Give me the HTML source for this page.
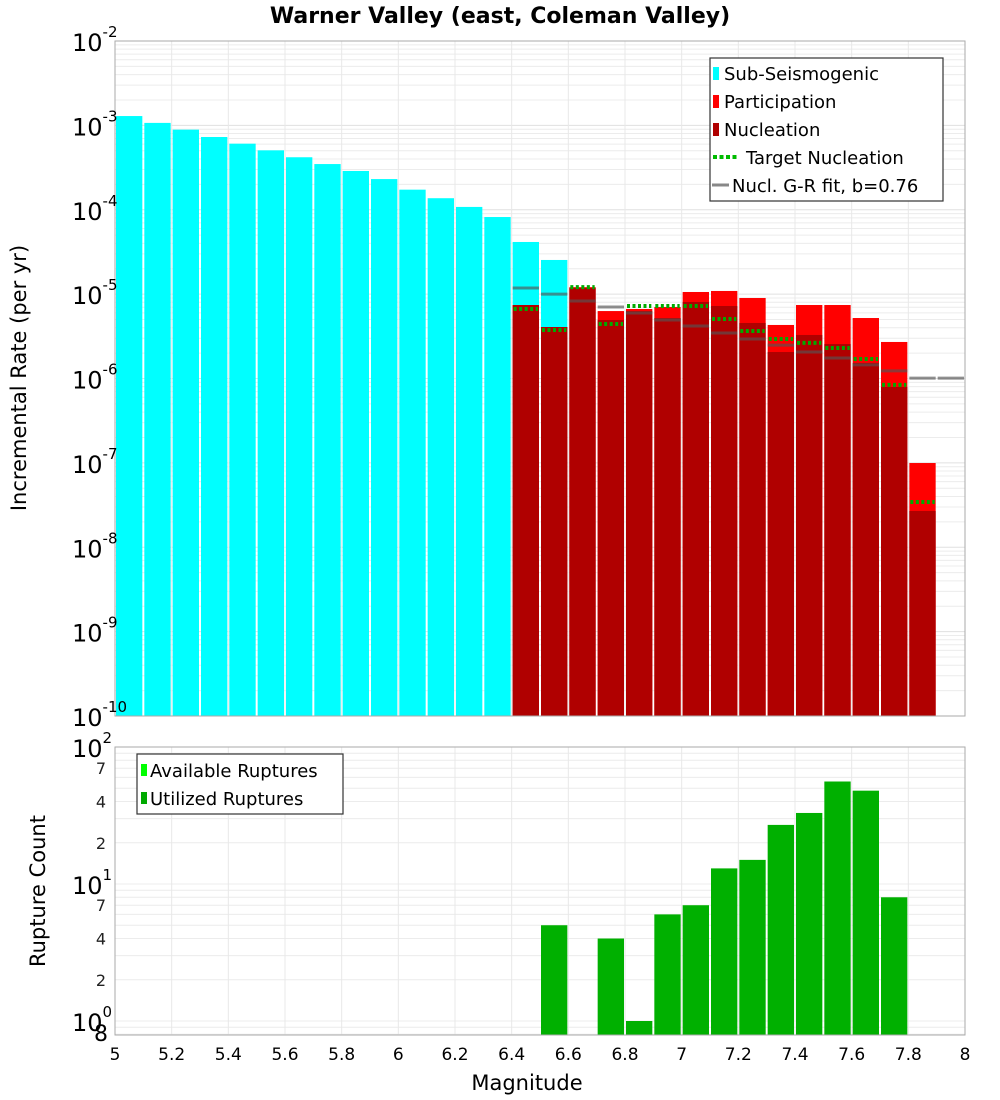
<!DOCTYPE html>
<html><head><meta charset="utf-8"><style>
body{margin:0;background:#fff;}
svg{display:block;font-family:"DejaVu Sans","Liberation Sans",sans-serif;}
</style></head><body>
<svg id="chart" width="1000" height="1100" xmlns="http://www.w3.org/2000/svg">
<rect width="1000" height="1100" fill="#fff"/>
<text x="500" y="23" text-anchor="middle" font-size="22" font-weight="bold">Warner Valley (east, Coleman Valley)</text>
<g id="grid"></g>
<g id="bars"></g>
<g id="axes"></g>
<g>
<rect x="710" y="58" width="233" height="143" fill="#fff" stroke="#333" stroke-width="1.2"/>
<rect x="713" y="67" width="6" height="13" fill="#00ffff"/><text x="724" y="80" font-size="18">Sub-Seismogenic</text>
<rect x="713" y="95" width="6" height="13" fill="#ff0000"/><text x="724" y="108" font-size="18">Participation</text>
<rect x="713" y="123" width="6" height="13" fill="#b00000"/><text x="724" y="136" font-size="18">Nucleation</text>
<line x1="713" y1="157" x2="739" y2="157" stroke="#00bb00" stroke-width="4" stroke-dasharray="4,2.5"/><text x="746" y="164" font-size="18">Target Nucleation</text>
<line x1="712" y1="185" x2="729" y2="185" stroke="#888" stroke-width="3"/><text x="732" y="192" font-size="18">Nucl. G-R fit, b=0.76</text>
</g>
<g>
<rect x="137" y="754" width="206" height="60" fill="#fff" stroke="#333" stroke-width="1.2"/>
<rect x="141" y="764" width="6" height="12" fill="#00ff00"/><text x="150" y="777" font-size="18">Available Ruptures</text>
<rect x="141" y="792" width="6" height="12" fill="#00aa00"/><text x="150" y="805" font-size="18">Utilized Ruptures</text>
</g>
<text x="527" y="1090" text-anchor="middle" font-size="21">Magnitude</text>
<text transform="translate(26,378) rotate(-90)" text-anchor="middle" font-size="21">Incremental Rate (per yr)</text>
<text transform="translate(45,891) rotate(-90)" text-anchor="middle" font-size="21">Rupture Count</text>
</svg>
<script>
// Data
const subMags = [5.0,5.1,5.2,5.3,5.4,5.5,5.6,5.7,5.8,5.9,6.0,6.1,6.2,6.3,6.4,6.5];
const subRates = [1.29e-3,1.07e-3,8.9e-4,7.28e-4,6.07e-4,5.06e-4,4.19e-4,3.48e-4,2.88e-4,2.31e-4,1.73e-4,1.37e-4,1.08e-4,8.2e-5,4.15e-5,2.54e-5];
const faultMags = [6.4,6.5,6.6,6.7,6.8,6.9,7.0,7.1,7.2,7.3,7.4,7.5,7.6,7.7,7.8];
const partRates = [7.43e-6,4.07e-6,1.21e-5,6.3e-6,6.67e-6,7.04e-6,1.06e-5,1.09e-5,9.0e-6,4.31e-6,7.43e-6,7.43e-6,5.21e-6,2.71e-6,9.96e-8];
const nuclRates = [7.43e-6,4.07e-6,1.18e-5,4.93e-6,6.3e-6,5.21e-6,8.07e-6,7.23e-6,4.55e-6,2.06e-6,3.28e-6,2.56e-6,1.53e-6,7.93e-7,2.69e-8];
const targetRates = [6.67e-6,3.76e-6,1.21e-5,4.43e-6,7.23e-6,7.23e-6,7.23e-6,5.07e-6,3.66e-6,2.94e-6,2.64e-6,2.3e-6,1.70e-6,8.4e-7,3.44e-8];
const grMags = [6.4,6.5,6.6,6.7,6.8,6.9,7.0,7.1,7.2,7.3,7.4,7.5,7.6,7.7,7.8,7.9];
const grRates = [1.18e-5,1.0e-5,8.3e-6,7.04e-6,5.97e-6,4.93e-6,4.19e-6,3.46e-6,2.94e-6,2.49e-6,2.06e-6,1.75e-6,1.45e-6,1.23e-6,1.01e-6,1.01e-6];
const countMags = [6.5,6.7,6.8,6.9,7.0,7.1,7.2,7.3,7.4,7.5,7.6,7.7];
const countValues = [5,4,1,6,7,13,15,27,33,56,48,8];
const xTicks = [5,5.2,5.4,5.6,5.8,6,6.2,6.4,6.6,6.8,7,7.2,7.4,7.6,7.8,8];

const NS="http://www.w3.org/2000/svg";
const L=115,R=965,T1=41,B1=716,T2=747,B2=1035;
const x=m=>L+(m-5)/3*(R-L);
const y1=v=>T1+(-2-Math.log10(v))*(B1-T1)/8;
const y2=v=>T2+(2-Math.log10(v))*137;
function el(tag,attrs,parent,txt){const e=document.createElementNS(NS,tag);for(const k in attrs)e.setAttribute(k,attrs[k]);if(txt!==undefined)e.textContent=txt;parent.appendChild(e);return e;}
const grid=document.getElementById('grid'),bars=document.getElementById('bars'),axes=document.getElementById('axes');
// plot backgrounds & grid
for(let d=-10;d<-2;d++){for(let k=1;k<10;k++){const yy=y1(k*Math.pow(10,d));el('line',{x1:L,x2:R,y1:yy,y2:yy,stroke:k==1?'#e0e0e0':'#ececec','stroke-width':1},grid);}}
for(let d=-1;d<2;d++){for(let k=1;k<10;k++){const v=k*Math.pow(10,d);const yy=y2(v);if(yy>B2||yy<T2)continue;el('line',{x1:L,x2:R,y1:yy,y2:yy,stroke:'#ececec','stroke-width':1},grid);}}
xTicks.forEach(t=>{el('line',{x1:x(t),x2:x(t),y1:T1,y2:B1,stroke:'#e8e8e8'},grid);el('line',{x1:x(t),x2:x(t),y1:T2,y2:B2,stroke:'#e8e8e8'},grid);});
const bw=(R-L)/30;
subMags.forEach((m,i)=>{const r=el('rect',{x:x(m)+1,y:y1(subRates[i]),width:bw-2,height:B1-y1(subRates[i]),fill:'#00ffff'},bars);

});
faultMags.forEach((m,i)=>{const r=el('rect',{x:x(m)+1,y:y1(partRates[i]),width:bw-2,height:B1-y1(partRates[i]),fill:'#ff0000'},bars);


const n=el('rect',{x:x(m)+1,y:y1(nuclRates[i]),width:bw-2,height:B1-y1(nuclRates[i]),fill:'#b00000'},bars);

});
grMags.forEach((m,i)=>{const g=el('line',{x1:x(m)+1,x2:x(m)+bw-1,y1:y1(grRates[i]),y2:y1(grRates[i]),stroke:'#555','stroke-opacity':0.65,'stroke-width':3},bars);

});
faultMags.forEach((m,i)=>{const g=el('line',{x1:x(m)+2,x2:x(m)+bw-2,y1:y1(targetRates[i]),y2:y1(targetRates[i]),stroke:'#00aa00','stroke-width':4,'stroke-dasharray':'3,2.5'},bars);

});
countMags.forEach((m,i)=>{const r=el('rect',{x:x(m)+1,y:y2(countValues[i]),width:bw-2,height:B2-y2(countValues[i]),fill:'#00b000'},bars);

});
// frames
el('rect',{x:L,y:T1,width:R-L,height:B1-T1,fill:'none',stroke:'#aaa'},axes);
el('rect',{x:L,y:T2,width:R-L,height:B2-T2,fill:'none',stroke:'#aaa'},axes);
// x tick labels
xTicks.forEach(t=>{const tx=el('text',{x:x(t),y:1060,'text-anchor':'middle','font-size':17},axes,String(t));

});
// top y labels
for(let d=-10;d<=-2;d++){const yy=y1(Math.pow(10,d));const g=el('text',{x:72,y:yy+10,'font-size':24},axes);


el('tspan',{},g,'10');el('tspan',{dy:-14,'font-size':15},g,String(d));}
// bottom y labels
[[100,'2'],[10,'1'],[1,'0']].forEach(([v,e])=>{const yy=y2(v);const g=el('text',{x:72,y:yy+10,'font-size':24},axes);


el('tspan',{},g,'10');el('tspan',{dy:-14,'font-size':15},g,e);});
[70,40,20,7,4,2].forEach(v=>{const t=el('text',{x:106,y:y2(v)+6,'font-size':16,'text-anchor':'end',fill:'#222'},axes,String(v).charAt(0));

});
const e8=el('text',{x:108,y:1041,'font-size':22,'text-anchor':'end'},axes,'8');


</script>
</body></html>
